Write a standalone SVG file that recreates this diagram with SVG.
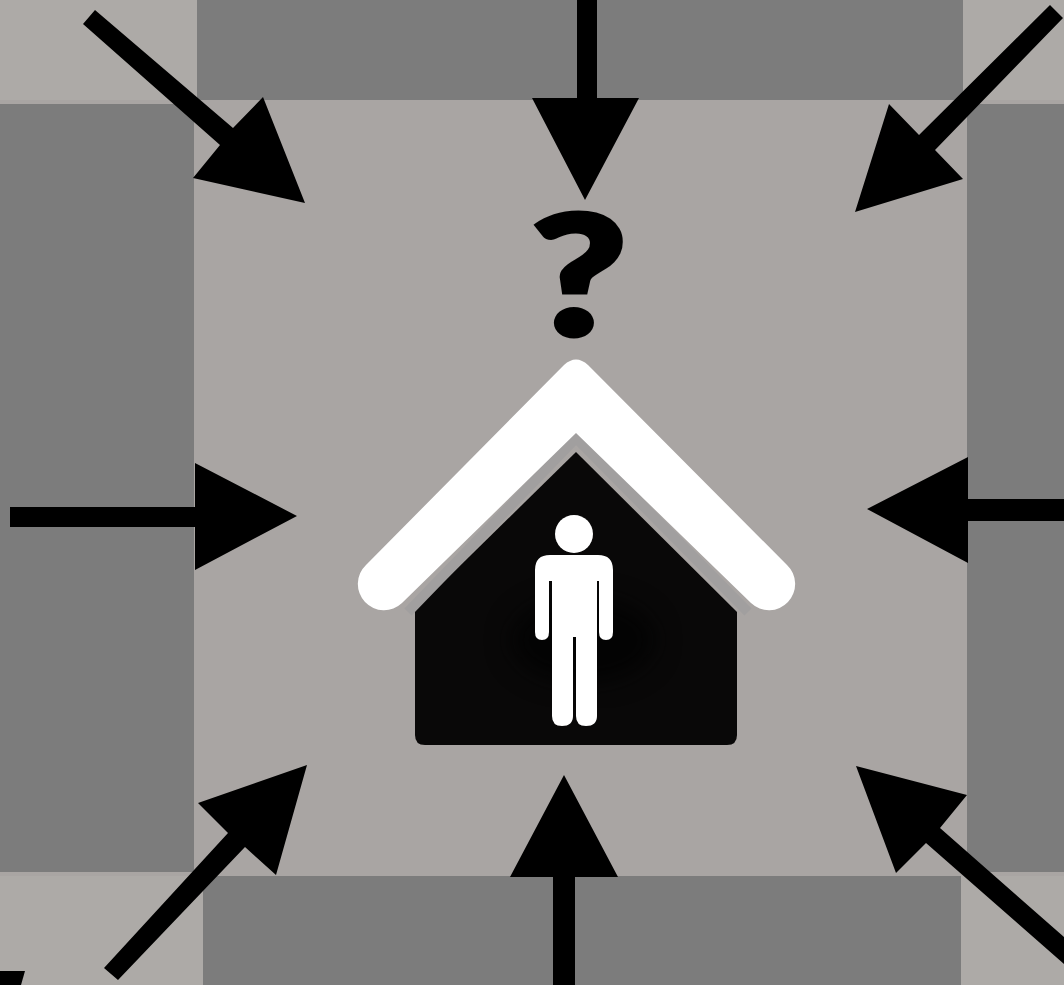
<svg xmlns="http://www.w3.org/2000/svg" width="1064" height="985" viewBox="0 0 1064 985">
<style>
.panel{fill:#7c7c7c}
.corner{fill:#adaaa7}
.arrow{fill:#000}
.white{fill:#fff}
text{font-family:"Lato","Liberation Sans",Arial,sans-serif;font-weight:900;fill:#000;stroke:#000;stroke-width:5}
</style>
<defs>
<filter id="soft" x="-5%" y="-5%" width="110%" height="110%" color-interpolation-filters="sRGB"><feGaussianBlur stdDeviation="0.7"/></filter>
<filter id="haze" x="-30%" y="-30%" width="160%" height="160%" color-interpolation-filters="sRGB"><feGaussianBlur stdDeviation="12"/></filter>
</defs>
<rect id="background" width="1064" height="985" fill="#a9a5a3"/>
<g id="corners">
<rect class="corner" x="0" y="0" width="197" height="100"/>
<rect class="corner" x="963" y="0" width="101" height="100"/>
<rect class="corner" x="0" y="876" width="203" height="109"/>
<rect class="corner" x="961" y="876" width="103" height="109"/>
</g>
<g id="panels">
<rect id="panel-top" class="panel" x="197" y="0" width="766" height="100"/>
<rect id="panel-left" class="panel" x="0" y="104" width="194" height="768"/>
<rect id="panel-right" class="panel" x="967" y="104" width="97" height="768"/>
<rect id="panel-bottom" class="panel" x="203" y="876" width="758" height="109"/>
</g>
<g id="connectors" filter="url(#soft)">
<polygon class="arrow" points="95,10 233,128 263,97 305,203 193,178 220,145 83,24"/>
<polygon class="arrow" points="577,0 597,0 597,98 639,98 585,200 532,98 577,98"/>
<polygon class="arrow" points="1050,5 1063,18 935,150 963,179 855,212 889,104 919,135"/>
<polygon class="arrow" points="10,507 195,507 195,463 297,516 195,570 195,527 10,527"/>
<polygon class="arrow" points="1064,499 968,499 968,457 867,509 968,563 968,521 1064,521"/>
<polygon class="arrow" points="104,968 228,833 198,803 307,765 276,875 245,847 118,980"/>
<polygon class="arrow" points="553,985 553,877 510,877 564,775 618,877 575,877 575,985"/>
<polygon class="arrow" points="1064,937 940,828 967,795 856,766 896,873 926,843 1064,964"/>
<polygon class="arrow" points="0,971 25,971 21,985 0,985"/>
</g>
<g id="question">
<text transform="translate(579,335) scale(1.25,1)" x="0" y="0" font-size="166" text-anchor="middle">?</text>
</g>
<g id="house" filter="url(#soft)">
<path d="M576,452 L737,612 V735 Q737,745 727,745 H425 Q415,745 415,735 V610 Z" fill="#090808"/>
<ellipse cx="583" cy="640" rx="72" ry="42" fill="#030303" filter="url(#haze)"/>
<path d="M408,612 L576,438 L748,612" fill="none" stroke="#a19f9f" stroke-width="10"/>
<path id="roof" class="white" d="M366,565 L564,365 Q576,354 588,365 L787,565 A26,26 0 0 1 751,603 L576,433 L402,603 A26,26 0 0 1 366,565 Z"/>
</g>
<g id="person" filter="url(#soft)">
<circle class="white" cx="574" cy="534" r="19"/>
<path class="white" d="M550,555 H598 Q613,555 613,570 V632 Q613,640 606,640 Q599,640 599,632 V581 H597 V716 Q597,726 586,726 Q576,726 576,716 V637 H573 V716 Q573,726 562,726 Q552,726 552,716 V581 H549 V632 Q549,640 542,640 Q535,640 535,632 V570 Q535,555 550,555 Z"/>
</g>
</svg>
